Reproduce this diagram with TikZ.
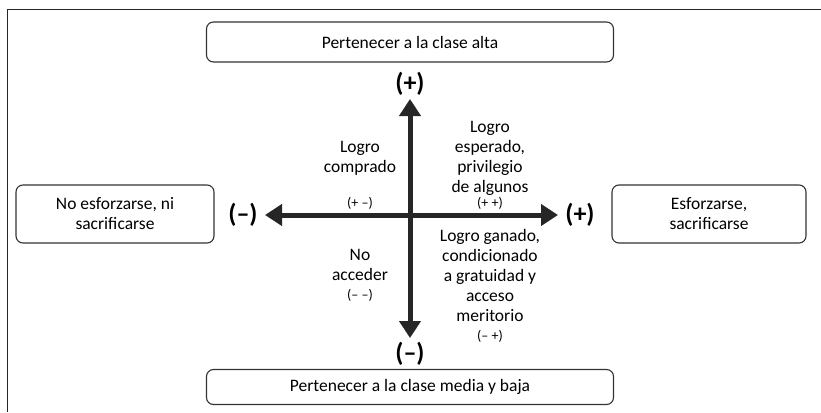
\documentclass[tikz,border=0pt]{standalone}
\usepackage{fontspec}
\setmainfont{Carlito}
\usetikzlibrary{arrows.meta}

\begin{document}
\begin{tikzpicture}[x=1pt,y=-1pt,
classbox/.style={draw=black!80,line width=1.1pt,rounded corners=7pt,align=center,
  font=\fontsize{17.5}{20}\selectfont},
axisarrow/.style={line width=5pt,draw=black!85,
  {Triangle[length=17pt,width=21pt]}-{Triangle[length=17pt,width=21pt]}},
sign/.style={font=\fontsize{26}{28}\selectfont\bfseries,inner sep=0pt},
quadrant/.style={font=\fontsize{17.5}{20}\selectfont,align=center,inner sep=0pt},
pair/.style={font=\fontsize{14}{16}\selectfont,inner sep=0pt}]

\useasboundingbox (0,0) rectangle (821,412);
\draw[line width=1pt,black!85] (7,412) -- (7,10) -- (821,10);

% Boxes
\node[classbox,minimum width=407pt,minimum height=40pt] (alta) at (410,42) {Pertenecer a la clase alta};
\node[classbox,minimum width=407pt,minimum height=35pt] (baja) at (410,387) {Pertenecer a la clase media y baja};
\node[classbox,minimum width=198pt,minimum height=58pt] (noesf) at (115,214) {No esforzarse, ni\\sacrificarse};
\node[classbox,minimum width=194pt,minimum height=58pt] (esf) at (709,214) {Esforzarse,\\sacrificarse};

% Signs
\node[sign] (up) at (410,84) {(+)};
\node[sign] (down) at (410,354) {(–)};
\node[sign] (left) at (243,215) {(–)};
\node[sign] (right) at (580,215) {(+)};

% Axes
\coordinate (top) at (410,99);
\coordinate (bottom) at (410,338);
\coordinate (west) at (265,215);
\coordinate (east) at (558,215);
\draw[axisarrow] (top) -- (bottom);
\draw[axisarrow] (west) -- (east);

% Quadrants
\node[quadrant] (compr) at (360,158) {Logro\\comprado};
\node[pair] (pm) at (360,203) {(+ –)};
\node[quadrant] (esper) at (490,158) {Logro\\esperado,\\privilegio\\de algunos};
\node[pair] (pp) at (490,203) {(+ +)};
\node[quadrant] (acc) at (360,265) {No\\acceder};
\node[pair] (mm) at (360,295) {(– –)};
\node[quadrant] (ganado) at (490,275) {Logro ganado,\\condicionado\\a gratuidad y\\acceso\\meritorio};
\node[pair] (mp) at (490,336) {(– +)};

\end{tikzpicture}
\end{document}
